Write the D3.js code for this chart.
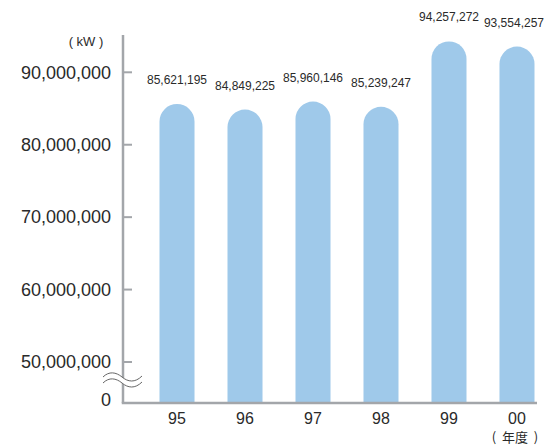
<!DOCTYPE html>
<html>
<head>
<meta charset="utf-8">
<script src="https://cdn.jsdelivr.net/npm/d3@7"></script>
<style>
  html, body { margin: 0; padding: 0; background: #fff; }
  svg { display: block; font-family: "Liberation Sans", Arial, Helvetica, sans-serif; }
</style>
</head>
<body>
<div id="chart"></div>
<script>
// Fiscal-year values (kW).
const years = ['95', '96', '97', '98', '99', '00'];
const values = [85621195, 84849225, 85960146, 85239247, 94257272, 93554257];
const yTicks = [50000000, 60000000, 70000000, 80000000, 90000000];

const width = 546, height = 448;
const axisX = 123, baseY = 403, axisTop = 35, axisRight = 537;
const barColor = '#9fc9ea', axisColor = '#a3a6aa', textColor = '#2a2a2a';

const svg = d3.select('#chart').append('svg').attr('width', width).attr('height', height);

// Broken axis: the scale covers 50M–90M, bars run down to the baseline.
const y = d3.scaleLinear().domain([50000000, 90000000]).range([362, 72.3]);
const x = d3.scaleBand().domain(years).range([125.5, 568.5]).paddingInner(0.485).paddingOuter(0.5);

const bw = x.bandwidth(), r = bw / 2;
const barPath = (xv, top) =>
  `M${xv},${baseY} L${xv},${top + r} A${r},${r} 0 0 1 ${xv + bw},${top + r} L${xv + bw},${baseY} Z`;

svg.append('g').selectAll('path')
  .data(values)
  .enter()
  .append('path')
  .attr('d', (d, i) => barPath(x(years[i]), y(d)))
  .attr('fill', barColor);

// Value labels above bars; keep the last one inside the picture
svg.append('g').selectAll('text')
  .data(values)
  .enter()
  .append('text')
  .attr('y', d => y(d) - 20)
  .attr('text-anchor', 'middle')
  .attr('font-size', 12)
  .attr('fill', textColor)
  .text(d => d3.format(',')(d))
  .attr('x', function(d, i) {
    const half = this.getComputedTextLength() / 2;
    return Math.min(x(years[i]) + r, width - 2 - half);
  });

// Axes lines
svg.append('line')
  .attr('x1', axisX).attr('x2', axisX).attr('y1', axisTop).attr('y2', baseY)
  .attr('stroke', axisColor).attr('stroke-width', 2.5);
svg.append('line')
  .attr('x1', axisX - 1.25).attr('x2', axisRight).attr('y1', baseY).attr('y2', baseY)
  .attr('stroke', axisColor).attr('stroke-width', 2.5);

// Y ticks point inward, labels on the left
const yt = svg.append('g');
yt.selectAll('line')
  .data(yTicks)
  .enter()
  .append('line')
  .attr('x1', axisX).attr('x2', axisX + 9)
  .attr('y1', d => y(d)).attr('y2', d => y(d))
  .attr('stroke', axisColor).attr('stroke-width', 2);
yt.selectAll('text')
  .data(yTicks)
  .enter()
  .append('text')
  .attr('x', 111)
  .attr('y', d => y(d))
  .attr('dy', '0.35em')
  .attr('text-anchor', 'end')
  .attr('font-size', 18)
  .attr('fill', textColor)
  .text(d => d3.format(',')(d));
svg.append('text')
  .attr('x', 111).attr('y', baseY - 3).attr('dy', '0.35em')
  .attr('text-anchor', 'end').attr('font-size', 18).attr('fill', textColor)
  .text('0');

// Axis break marks
const waveTop = 'M103,377 C109,371 116,372 122,377 S135,383 142,376';
const waveBot = 'M103,383 C109,377 116,378 122,383 S135,389 142,382';
svg.append('path')
  .attr('d', waveTop + ' L142,382 C135,389 129,389 122,383 S109,377 103,383 Z')
  .attr('fill', '#fff');
[waveTop, waveBot].forEach(d =>
  svg.append('path').attr('d', d).attr('fill', 'none').attr('stroke', '#666').attr('stroke-width', 1));

// X labels
svg.append('g').selectAll('text')
  .data(years)
  .enter()
  .append('text')
  .attr('x', d => x(d) + r)
  .attr('y', 424)
  .attr('text-anchor', 'middle')
  .attr('font-size', 16)
  .attr('fill', textColor)
  .text(d => d);

// Units
svg.append('text')
  .attr('x', 86).attr('y', 46).attr('text-anchor', 'middle')
  .attr('font-size', 13).attr('fill', textColor)
  .text('( kW )');
svg.append('text')
  .attr('x', 515).attr('y', 442).attr('text-anchor', 'middle')
  .attr('font-size', 13).attr('fill', textColor)
  .style('font-family', '"Noto Sans CJK JP", sans-serif')
  .attr('xml:space', 'preserve')
  .text('(  年度  )');
</script>
</body>
</html>
